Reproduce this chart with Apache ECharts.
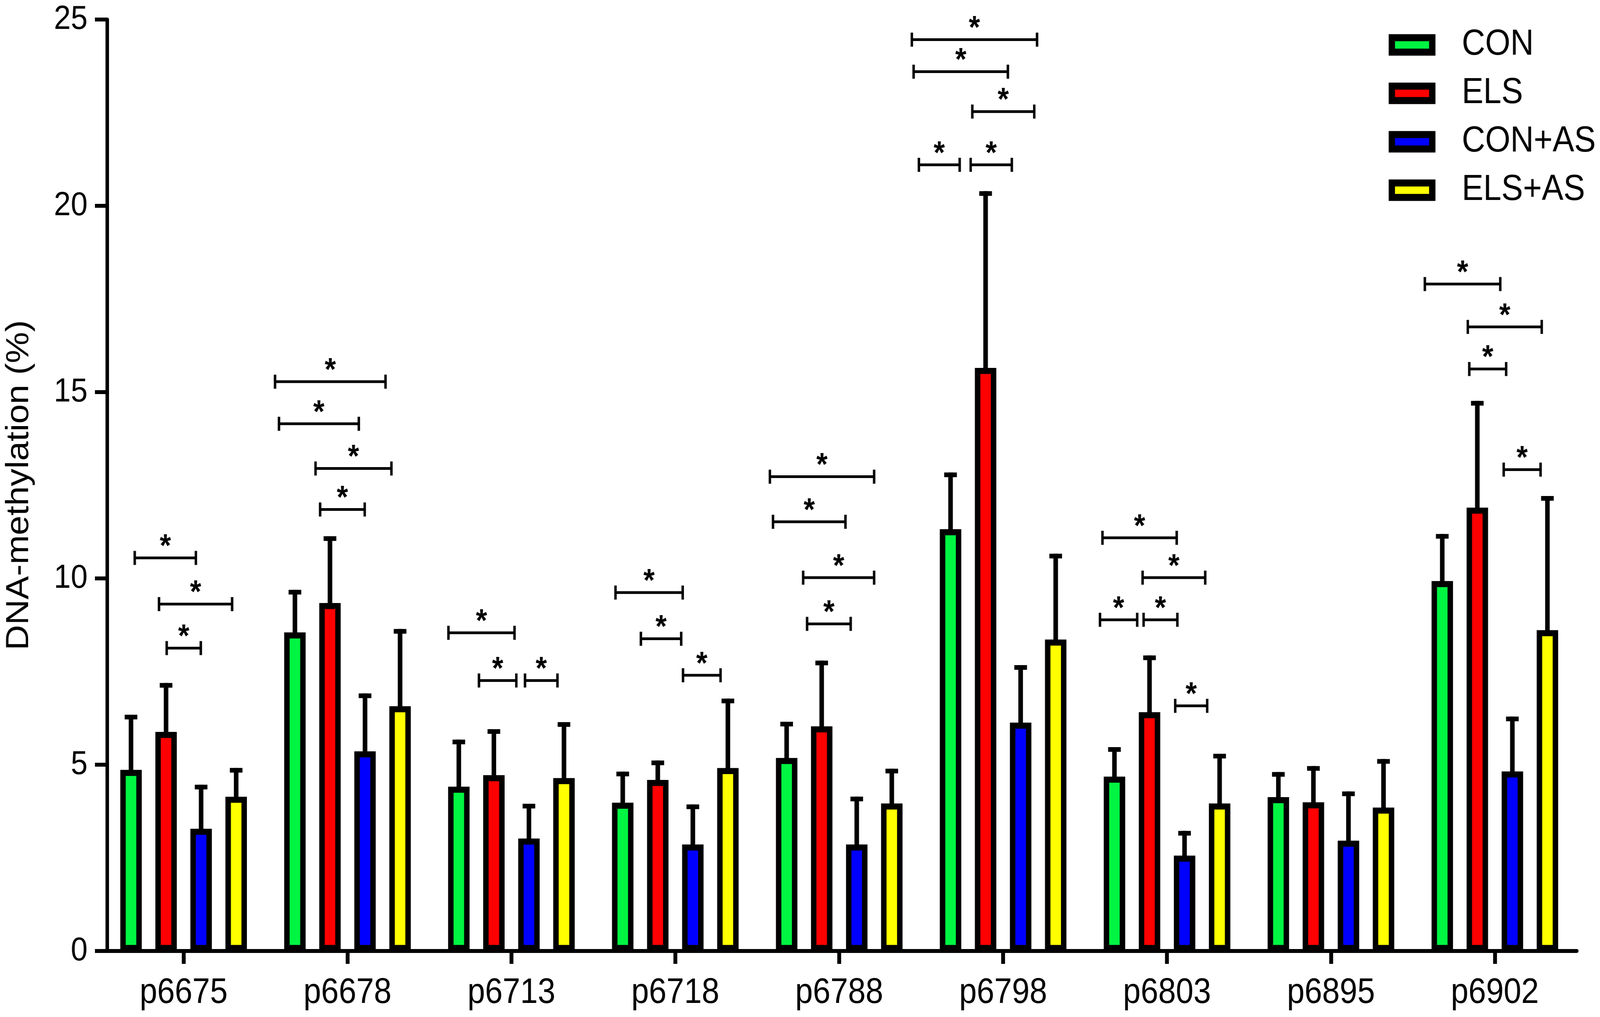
<!DOCTYPE html>
<html><head><meta charset="utf-8">
<script src="https://cdn.jsdelivr.net/npm/echarts@6/dist/echarts.min.js"></script>
<style>html,body{margin:0;padding:0;background:#fff;overflow:hidden}#c{width:4550px;height:2604px;transform-origin:0 0}</style>
</head><body><div id="c"></div>
<script>
// ---------- data ----------
const categories = ['p6675','p6678','p6713','p6718','p6788','p6798','p6803','p6895','p6902'];
const seriesNames = ['CON','ELS','CON+AS','ELS+AS'];
const yTicks = [0, 5, 10, 15, 20, 25];

// group means (%)
const con   = [4.86, 8.55, 4.41, 3.98, 5.18, 11.32, 4.68, 4.13, 9.93];
const els   = [5.88, 9.34, 4.72, 4.59, 6.03, 15.65, 6.41, 3.99, 11.90];
const conAs = [3.28, 5.36, 3.02, 2.86, 2.86, 6.13, 2.56, 2.96, 4.82];
const elsAs = [4.14, 6.57, 4.64, 4.91, 3.96, 8.36, 3.96, 3.85, 8.61];

// upper end of error bars (%)
const conTop   = [6.28, 9.63, 5.61, 4.75, 6.09, 12.78, 5.41, 4.74, 11.13];
const elsTop   = [7.13, 11.07, 5.89, 5.05, 7.73, 20.33, 7.87, 4.90, 14.70];
const conAsTop = [4.40, 6.85, 3.89, 3.87, 4.08, 7.61, 3.16, 4.22, 6.23];
const elsAsTop = [4.85, 8.58, 6.08, 6.71, 4.83, 10.60, 5.23, 5.09, 12.15];

// significance brackets: [from, to] in category units (category i centred at i), level in %
const sigFrom  = [-0.298, -0.150, -0.103,  0.558, 0.582, 0.805, 0.833,  1.616, 1.802, 2.083,  2.635, 2.790, 3.047,
                   3.577, 3.596, 3.780, 3.804,  4.443, 4.454, 4.812, 4.486, 4.802,
                   5.606, 5.851, 5.591, 5.857, 6.050,  7.573, 7.835, 7.844, 8.054];
const sigTo    = [ 0.075,  0.296,  0.105,  1.232, 1.069, 1.268, 1.105,  2.019, 2.030, 2.281,  3.045, 3.036, 3.276,
                   4.213, 4.038, 4.213, 4.070,  5.207, 5.029, 5.190, 4.735, 5.053,
                   6.059, 6.233, 5.818, 6.063, 6.245,  8.033, 8.286, 8.069, 8.279];
const sigLevel = [10.55, 9.31, 8.13,  15.28, 14.15, 12.95, 11.85,  8.54, 7.26, 7.26,  9.62, 8.38, 7.40,
                  12.73, 11.52, 10.02, 8.78,  24.46, 23.60, 22.53, 21.10, 21.10,
                  11.09, 10.02, 8.89, 8.89, 6.58,  17.90, 16.75, 15.62, 12.92];
const sigLabel = '*';

// ---------- fit the 4550x2604 drawing into the actual window ----------
const W = 4550, H = 2604;
const box = document.getElementById('c');
const sx = (window.innerWidth || W) / W, sy = (window.innerHeight || H) / H;
if (Math.abs(sx - 1) > 0.001 || Math.abs(sy - 1) > 0.001) box.style.transform = 'scale(' + sx + ',' + sy + ')';

// ---------- chart ----------
const FONT = '"Liberation Sans", Arial, sans-serif';
const colors = ['#00f542', '#ff0000', '#0000ff', '#ffff00'];
const BAR_W = 61, BAR_GAP = 0.634, BAR_PITCH = BAR_W * (1 + BAR_GAP);
const means = [con, els, conAs, elsAs];
const tops = [conTop, elsTop, conAsTop, elsAsTop];

const errData = [];
means.forEach((arr, s) => arr.forEach((v, i) => errData.push([i, s, v, tops[s][i]])));
const sigData = sigFrom.map((f, k) => [f, sigTo[k], sigLevel[k]]);

const chart = echarts.init(box, null, {renderer: 'canvas', width: W, height: H});

const barSeries = means.map((d, s) => ({
  type: 'bar', name: seriesNames[s], data: d,
  barWidth: BAR_W, barGap: (BAR_GAP * 100) + '%',
  itemStyle: {color: colors[s], borderColor: '#000', borderWidth: 15.5},
  emphasis: {disabled: true}, z: 2
}));

const errSeries = {
  type: 'custom', xAxisIndex: 0, yAxisIndex: 0, z: 3, silent: true,
  data: errData, encode: {x: 0, y: 3},
  renderItem: (params, api) => {
    const cat = api.value(0), s = api.value(1);
    const p0 = api.coord([cat, api.value(2)]);
    const p1 = api.coord([cat, api.value(3)]);
    const x = p0[0] + (s - 1.5) * BAR_PITCH;
    return {type: 'group', children: [
      {type: 'line', shape: {x1: x, y1: p0[1] + 4, x2: x, y2: p1[1] - 6}, style: {stroke: '#000', lineWidth: 13}},
      {type: 'line', shape: {x1: x - 18, y1: p1[1], x2: x + 18, y2: p1[1]}, style: {stroke: '#000', lineWidth: 12}}
    ]};
  }
};

const sigSeries = {
  type: 'custom', xAxisIndex: 1, yAxisIndex: 0, z: 4, silent: true,
  data: sigData, encode: {x: [0, 1], y: 2},
  renderItem: (params, api) => {
    const a = api.coord([api.value(0), api.value(2)]);
    const b = api.coord([api.value(1), api.value(2)]);
    const y = a[1];
    return {type: 'group', children: [
      {type: 'line', shape: {x1: a[0], y1: y, x2: b[0], y2: y}, style: {stroke: '#000', lineWidth: 7}},
      {type: 'line', shape: {x1: a[0], y1: y - 18, x2: a[0], y2: y + 18}, style: {stroke: '#000', lineWidth: 7}},
      {type: 'line', shape: {x1: b[0], y1: y - 18, x2: b[0], y2: y + 18}, style: {stroke: '#000', lineWidth: 7}},
      {type: 'text', style: {text: sigLabel, x: (a[0] + b[0]) / 2, y: y - 27, fill: '#000',
        font: 'bold 82px ' + FONT, align: 'center', verticalAlign: 'middle'}}
    ]};
  }
};

chart.setOption({
  animation: false,
  backgroundColor: '#fff',
  grid: {left: 289, right: 66, top: 50, bottom: 169, containLabel: false},
  legend: {
    orient: 'vertical', left: 3944, top: 64, icon: 'rect', selectedMode: false,
    itemWidth: 115, itemHeight: 37, itemGap: 32,
    itemStyle: {borderWidth: 18, borderColor: '#000'},
    textStyle: {fontSize: 92, color: '#000', fontFamily: FONT, lineHeight: 90, padding: [0, 0, 0, 79]},
    data: seriesNames
  },
  xAxis: [{
    type: 'category', data: categories,
    axisLine: {show: true, onZero: false, lineStyle: {color: '#000', width: 10}},
    axisTick: {show: true, alignWithLabel: true, length: 33, lineStyle: {color: '#000', width: 11}},
    axisLabel: {fontSize: 90, color: '#000', fontFamily: FONT, margin: 63},
    splitLine: {show: false}
  }, {
    type: 'value', min: -0.5, max: 8.5, show: false
  }],
  yAxis: {
    type: 'value', min: yTicks[0], max: yTicks[yTicks.length - 1], interval: yTicks[1] - yTicks[0], offset: -16,
    axisLine: {show: true, onZero: false, lineStyle: {color: '#000', width: 10}},
    axisTick: {show: true, length: 35, lineStyle: {color: '#000', width: 10}},
    axisLabel: {fontSize: 86, color: '#000', fontFamily: FONT, margin: 56},
    splitLine: {show: false},
    name: 'DNA-methylation (%)', nameLocation: 'middle', nameGap: 205,
    nameTextStyle: {fontSize: 90, color: '#000', fontFamily: FONT}
  },
  series: [...barSeries, errSeries, sigSeries]
});
</script></body></html>
